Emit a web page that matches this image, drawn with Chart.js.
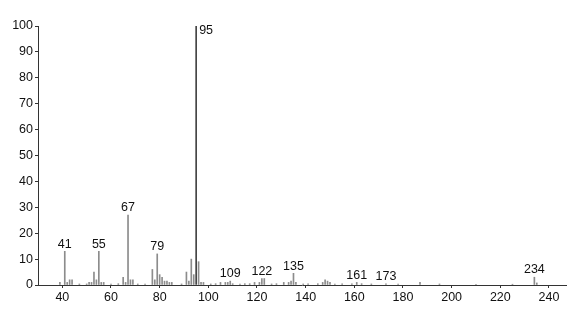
<!DOCTYPE html>
<html>
<head>
<meta charset="utf-8">
<script src="https://cdn.jsdelivr.net/npm/chart.js@4/dist/chart.umd.min.js"></script>
<style>
  body { margin: 0; background: #fff; }
  #wrap { width: 587px; height: 317px; }
</style>
</head>
<body>
<div id="wrap"><canvas id="spectrum" width="587" height="317"></canvas></div>
<script>
// m/z values and relative intensities
const mz = [39, 41, 42, 43, 44, 47, 50, 51, 52, 53, 54, 55, 56, 57, 60, 63, 65, 66, 67, 68, 69, 71, 74,
            77, 78, 79, 80, 81, 82, 83, 84, 85, 89, 91, 92, 93, 94, 95, 96, 97, 98, 101, 103, 105, 107,
            108, 109, 110, 113, 115, 117, 119, 121, 122, 123, 126, 128, 131, 133, 134, 135, 136, 139,
            141, 145, 147, 148, 149, 150, 152, 155, 159, 161, 163, 167, 173, 178, 187, 195, 210, 225,
            234, 235];
const intensity = [1, 13, 1, 2, 2, 0.4, 0.4, 1, 1, 5, 2, 13, 1, 1, 0.4, 0.5, 3, 1, 27, 2, 2, 0.4, 0.4,
                   6, 2, 12, 4, 3, 1.5, 1.5, 1, 1, 0.4, 5, 1.5, 10, 4, 100, 9, 1, 1, 0.4, 0.5, 1, 1,
                   1, 1.5, 0.5, 0.4, 0.5, 0.5, 1, 1, 2.5, 2.5, 0.4, 0.5, 1, 1, 1.5, 4.5, 1, 0.4,
                   0.5, 0.5, 1, 2, 1.5, 1, 0.4, 0.5, 0.5, 1, 0.5, 0.4, 0.5, 0.4, 1, 0.4, 0.3, 0.3,
                   3, 0.8];
const labelMz = [41, 55, 67, 79, 95, 109, 122, 135, 161, 173, 234];
const xTicks = [40, 60, 80, 100, 120, 140, 160, 180, 200, 220, 240];

const FONT = '"Liberation Sans", Arial, Helvetica, sans-serif';

// Draw the m/z labels above their peaks
const peakLabels = {
    id: 'peakLabels',
    afterDatasetsDraw(chart) {
        const ctx = chart.ctx;
        const xs = chart.scales.x;
        const ys = chart.scales.y;
        ctx.save();
        ctx.font = '12.5px ' + FONT;
        ctx.fillStyle = '#111';
        labelMz.forEach(m => {
            const i = mz.indexOf(m);
            const px = xs.getPixelForValue(m);
            const py = ys.getPixelForValue(intensity[i]);
            if (intensity[i] >= 100) {
                // base peak: label to the right of the top
                ctx.textAlign = 'left';
                ctx.textBaseline = 'top';
                ctx.fillText(String(m), px + 3, py - 2);
            } else {
                ctx.textAlign = 'center';
                ctx.textBaseline = 'bottom';
                ctx.fillText(String(m), px, py - 1);
            }
        });
        ctx.restore();
    }
};

const ctx = document.getElementById('spectrum').getContext('2d');
new Chart(ctx, {
    type: 'bar',
    data: {
        datasets: [{
            data: mz.map((m, i) => ({ x: m, y: intensity[i] })),
            backgroundColor: mz.map((m, i) => intensity[i] >= 50 ? '#444' : '#8c8c8c'),
            barThickness: 1,
            grouped: false
        }]
    },
    options: {
        responsive: false,
        animation: false,
        layout: { padding: { top: 26, right: 21, left: 0, bottom: 0 } },
        plugins: {
            legend: { display: false },
            tooltip: { enabled: false }
        },
        scales: {
            x: {
                type: 'linear',
                offset: false,
                min: 30,
                max: 247,
                afterBuildTicks: scale => { scale.ticks = xTicks.map(v => ({ value: v })); },
                afterFit: scale => { scale.height = 32; },
                grid: { drawOnChartArea: false, offset: false, tickLength: 3, color: '#333' },
                border: { color: '#333', width: 1 },
                ticks: { color: '#111', font: { family: FONT, size: 12.5 }, padding: 2, maxRotation: 0 }
            },
            y: {
                min: 0,
                max: 100,
                ticks: { stepSize: 10, color: '#111', font: { family: FONT, size: 12.5 }, padding: 2 },
                afterFit: scale => { scale.width = 38; },
                grid: { drawOnChartArea: false, tickLength: 3, color: '#333' },
                border: { color: '#333', width: 1 }
            }
        }
    },
    plugins: [peakLabels]
});
</script>
</body>
</html>
